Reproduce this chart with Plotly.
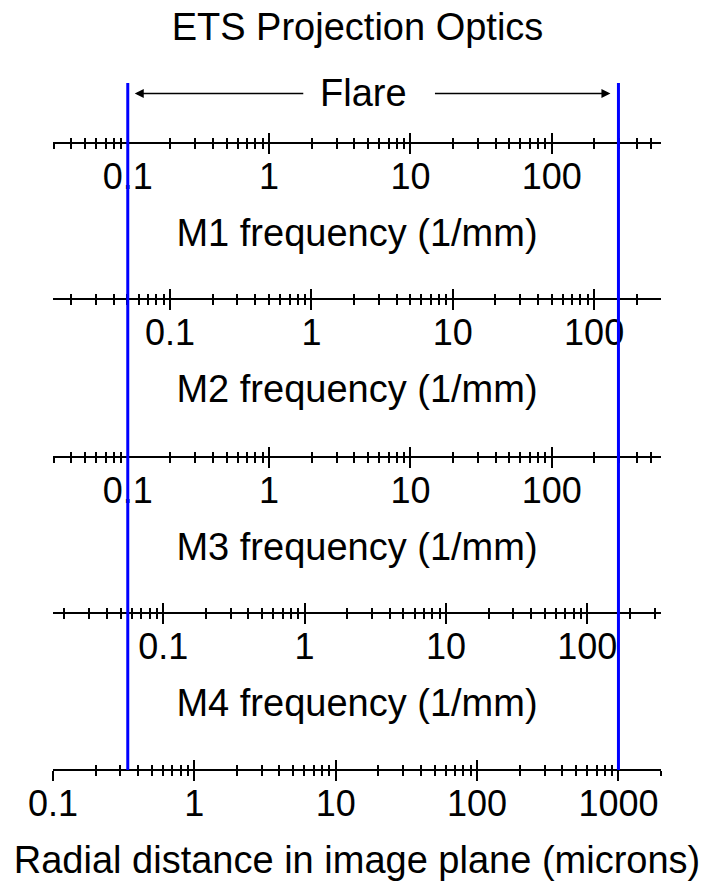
import numpy as np
import plotly.graph_objects as go

# ---------------- data ----------------
title_text = "ETS Projection Optics"
flare_label = "Flare"
radial_range = [0.1, 2000]            # microns, extent of the bottom axis
axis_titles = ["M1 frequency (1/mm)", "M2 frequency (1/mm)", "M3 frequency (1/mm)",
               "M4 frequency (1/mm)", "Radial distance in image plane (microns)"]
scale_factors = [0.296, 0.1486, 0.296, 0.166, 1.0]   # (1/mm) per micron of radius
major_ticks = [[0.1, 1, 10, 100], [0.1, 1, 10, 100], [0.1, 1, 10, 100],
               [0.1, 1, 10, 100], [0.1, 1, 10, 100, 1000]]
major_labels = [["0.1", "1", "10", "100"], ["0.1", "1", "10", "100"], ["0.1", "1", "10", "100"],
                ["0.1", "1", "10", "100"], ["0.1", "1", "10", "100", "1000"]]
flare_bounds = [0.338, 1000]          # microns

# ---------------- layout constants ----------------
W, H = 715, 882
X0, X1 = 53, 661
axis_y_px = [143, 299, 457, 613, 770]
FONT = "Liberation Sans, Arial, sans-serif"
FS = 38
TFS = 36
MAJ, MIN = 10, 5
LW = 2


def py(px):
    return 1 - px / H


def minor_vals(lo, hi):
    out = []
    for d in range(int(np.floor(np.log10(lo))) - 1, int(np.ceil(np.log10(hi))) + 1):
        for m in range(2, 10):
            v = m * 10.0 ** d
            if lo * (1 - 1e-9) <= v <= hi * (1 + 1e-9):
                out.append(v)
    return out


fig = go.Figure()
domain = [X0 / W, X1 / W]
layout = dict(
    template="none",
    width=W, height=H, margin=dict(l=0, r=0, t=0, b=0, autoexpand=False),
    paper_bgcolor="white", plot_bgcolor="rgba(0,0,0,0)",
    showlegend=False,
    font=dict(family=FONT, size=FS, color="black"),
    yaxis=dict(domain=[0, 1], range=[0, 1], visible=False, fixedrange=True, automargin=False),
)

# order: bottom axis is "x" (traces live there), others overlay it
order = [4, 3, 2, 1, 0]
n = 1
axis_ids = []
for i in order:
    k = scale_factors[i]
    lo, hi = radial_range[0] * k, radial_range[1] * k
    rng = [np.log10(lo) - 1e-7, np.log10(hi) + 1e-7]
    mv = minor_vals(lo, hi)
    pos = py(axis_y_px[i])
    for side_ticks in ("outside", "inside"):
        name = "xaxis" if n == 1 else f"xaxis{n}"
        axis_ids.append("x" if n == 1 else f"x{n}")
        ax = dict(
            type="log", range=rng, domain=domain, anchor="free", position=pos,
            side="bottom", showgrid=False, zeroline=False, automargin=False,
            showline=(side_ticks == "outside"), linecolor="black", linewidth=LW,
            tickmode="array", tickvals=major_ticks[i], ticktext=major_labels[i],
            ticks=side_ticks, ticklen=MAJ, tickwidth=LW, tickcolor="black",
            minor=dict(tickmode="array", tickvals=mv, ticks=side_ticks,
                       ticklen=MIN, tickwidth=LW, tickcolor="black", showgrid=False),
            showticklabels=(side_ticks == "outside"),
            tickfont=dict(family=FONT, size=TFS, color="black"),
            layer="below traces", fixedrange=True,
        )
        if side_ticks == "outside":
            ax["ticklabelstandoff"] = -8
            ax["title"] = dict(text=axis_titles[i], font=dict(family=FONT, size=FS, color="black"),
                               standoff=22)
        if n > 1:
            ax["overlaying"] = "x"
        layout[name] = ax
        n += 1

# empty traces so every overlaid axis gets drawn
for aid in axis_ids[1:]:
    fig.add_trace(go.Scatter(x=[], y=[], xaxis=aid, yaxis="y", mode="lines",
                             hoverinfo="skip", showlegend=False))

# flare boundaries (blue vertical lines) on the radial-distance axis
y_top = py(83)
y_bot = py(axis_y_px[4])
xs, ys = [], []
for b in flare_bounds:
    xs += [b, b, None]
    ys += [y_bot, y_top, None]
fig.add_trace(go.Scatter(x=xs, y=ys, mode="lines", xaxis="x", yaxis="y",
                         line=dict(color="#0000ff", width=3), hoverinfo="skip"))

arrow_y = py(93.5)
annotations = [
    dict(text=flare_label, x=364 / W, y=arrow_y, xref="paper", yref="paper",
         showarrow=False, font=dict(family=FONT, size=FS, color="black"),
         xanchor="center", yanchor="middle"),
    dict(text="", x=np.log10(flare_bounds[0]), y=arrow_y, xref="x", yref="paper",
         ax=304 - 127, ay=0, showarrow=True, arrowhead=2, arrowsize=1.2, arrowwidth=1.5,
         arrowcolor="black", standoff=7),
    dict(text="", x=np.log10(flare_bounds[1]), y=arrow_y, xref="x", yref="paper",
         ax=434 - 619, ay=0, showarrow=True, arrowhead=2, arrowsize=1.2, arrowwidth=1.5,
         arrowcolor="black", standoff=8),
]
layout["annotations"] = annotations
layout["title"] = dict(text=title_text, x=0.5, xanchor="center", y=py(27), yanchor="middle",
                       yref="paper", font=dict(family=FONT, size=FS, color="black"))

fig.update_layout(**layout)
fig.write_html("out.html", config={"displayModeBar": False},
               post_script="document.body.style.margin='0';document.body.style.padding='0';")
